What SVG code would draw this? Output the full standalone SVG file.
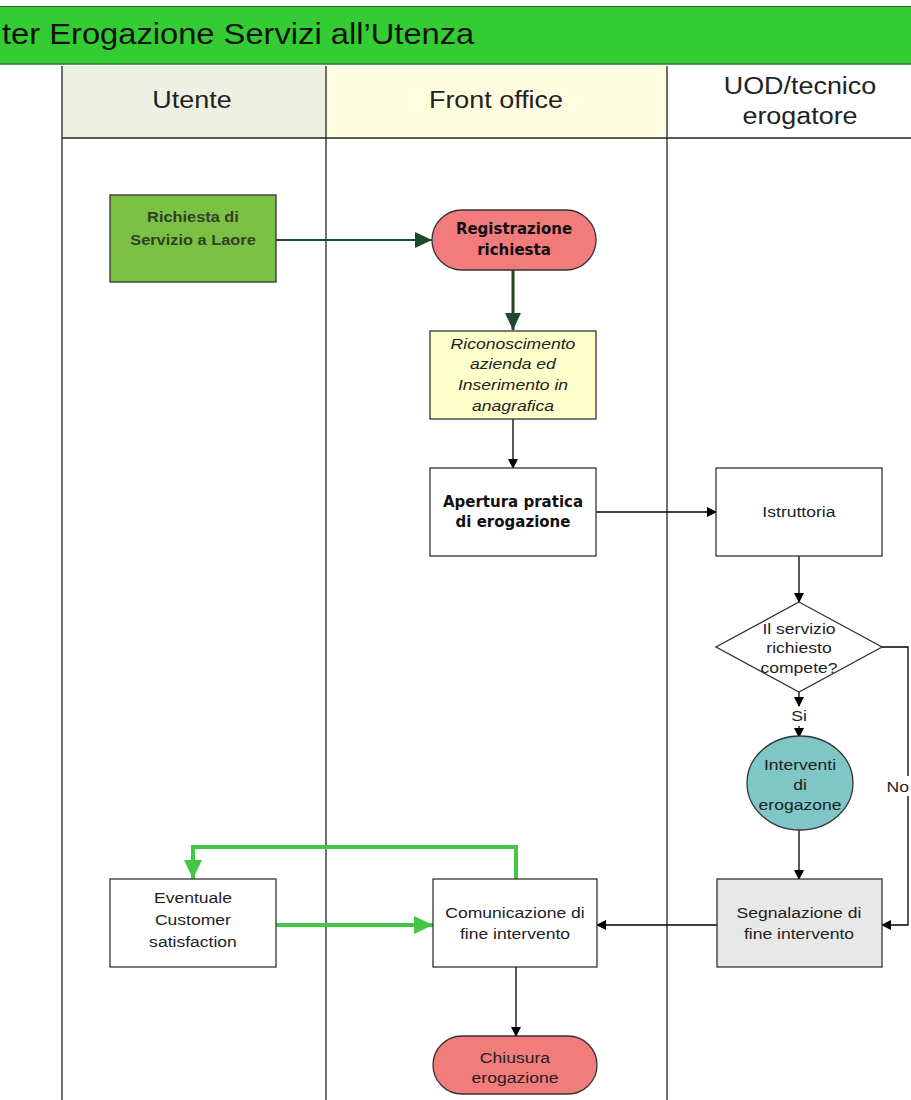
<svg xmlns="http://www.w3.org/2000/svg" width="911" height="1100" viewBox="0 0 911 1100">
<defs>
<marker id="ab" markerWidth="10" markerHeight="10" refX="9" refY="5" orient="auto" markerUnits="userSpaceOnUse"><path d="M0,0 L10,5 L0,10 Z" fill="#000"/></marker>
<marker id="adg" markerWidth="18" markerHeight="18" refX="17" refY="8" orient="auto" markerUnits="userSpaceOnUse"><path d="M0,0 L17,8 L0,16 Z" fill="#1d4a2c"/></marker>
<marker id="ag" markerWidth="20" markerHeight="20" refX="19" refY="9" orient="auto" markerUnits="userSpaceOnUse"><path d="M0,0 L19,9 L0,18 Z" fill="#44c744"/></marker>
</defs>
<style>
text{font-family:"Liberation Sans",Arial,sans-serif;font-size:15px;fill:#222;text-anchor:middle;transform-box:fill-box;transform-origin:center;transform:scaleX(1.17)}
.box{stroke:#333;stroke-width:1.3}
.lane{stroke:#222;stroke-width:1.3;fill:none}
.hd{font-size:23px;fill:#222;transform:scaleX(1.17)}
.t{font-size:30px;fill:#111;text-anchor:start;transform-origin:left;transform:scaleX(1.09)}
.b{font-weight:bold;font-size:14px}
.v{font-family:"DejaVu Sans",Verdana,sans-serif;font-weight:bold;font-size:15px;fill:#111;transform:none}
.i{font-style:italic}
.c{stroke:#000;stroke-width:1.3;fill:none;marker-end:url(#ab)}
.g{stroke:#44c744;stroke-width:4;fill:none;marker-end:url(#ag)}
</style>
<rect width="911" height="1100" fill="#fff"/>
<g id="header">
<rect x="0" y="6" width="911" height="58" fill="#33cc33"/>
<line x1="0" y1="6.5" x2="911" y2="6.5" stroke="#2a6a2a" stroke-width="1"/>
<line x1="0" y1="64" x2="911" y2="64" stroke="#2a7a2a" stroke-width="1.5"/>
<text class="t" x="2" y="44">ter Erogazione Servizi all’Utenza</text>
</g>
<g id="lanes">
<rect x="62" y="66" width="264" height="72" fill="#eef0e2"/>
<rect x="326" y="66" width="341" height="72" fill="#fffde0"/>
<line class="lane" x1="62" y1="66" x2="62" y2="1100"/>
<line class="lane" x1="326" y1="66" x2="326" y2="1100"/>
<line class="lane" x1="667" y1="66" x2="667" y2="1100"/>
<line class="lane" x1="62" y1="138" x2="911" y2="138"/>
<text class="hd" x="192" y="108">Utente</text>
<text class="hd" x="496" y="108">Front office</text>
<text class="hd" x="800" y="94">UOD/tecnico</text>
<text class="hd" x="800" y="124">erogatore</text>
</g>
<g id="connectors">
<line x1="276" y1="240" x2="432" y2="240" stroke="#1d4a2c" stroke-width="2" marker-end="url(#adg)"/>
<line x1="513" y1="270" x2="513" y2="330" stroke="#1d4a2c" stroke-width="3" marker-end="url(#adg)"/>
<line class="c" x1="513" y1="419" x2="513" y2="468"/>
<line class="c" x1="596" y1="512" x2="716" y2="512"/>
<line class="c" x1="799" y1="556" x2="799" y2="602"/>
<line class="c" x1="799" y1="692" x2="799" y2="706"/>
<line class="c" x1="799" y1="726" x2="799" y2="737"/>
<text x="799" y="721">Si</text>
<polyline class="c" points="882,647 908,647 908,925 882,925"/>
<rect x="886" y="776" width="25" height="20" fill="#fff"/>
<text x="909" y="792" style="text-anchor:end;transform-origin:right">No</text>
<line class="c" x1="799" y1="830" x2="799" y2="879"/>
<line class="c" x1="717" y1="925" x2="597" y2="925"/>
<line class="g" x1="276" y1="925" x2="433" y2="925"/>
<polyline class="g" points="516,879 516,847 193,847 193,879"/>
<line class="c" x1="516" y1="967" x2="516" y2="1036"/>
</g>
<g id="n1">
<rect class="box" x="110" y="195" width="166" height="87" fill="#7bc143"/>
<text class="b" x="193" y="222" style="fill:#33402a">Richiesta di</text>
<text class="b" x="193" y="245" style="fill:#33402a">Servizio a Laore</text>
</g>
<g id="n2">
<rect class="box" x="432" y="210" width="164" height="60" rx="30" fill="#f27b7b"/>
<text class="v" x="514" y="234">Registrazione</text>
<text class="v" x="514" y="255">richiesta</text>
</g>
<g id="n3">
<rect class="box" x="430" y="331" width="166" height="88" fill="#ffffcc"/>
<text class="i" x="513" y="349">Riconoscimento</text>
<text class="i" x="513" y="369">azienda ed</text>
<text class="i" x="513" y="390">Inserimento in</text>
<text class="i" x="513" y="411">anagrafica</text>
</g>
<g id="n4">
<rect class="box" x="430" y="468" width="166" height="88" fill="#fff"/>
<text class="v" x="513" y="507">Apertura pratica</text>
<text class="v" x="513" y="527">di erogazione</text>
</g>
<g id="n5">
<rect class="box" x="716" y="468" width="166" height="88" fill="#fff"/>
<text x="799" y="517">Istruttoria</text>
</g>
<g id="n6">
<polygon class="box" points="799,602 882,647 799,692 716,647" fill="#fff"/>
<text x="799" y="634">Il servizio</text>
<text x="799" y="653">richiesto</text>
<text x="799" y="673">compete?</text>
</g>
<g id="n7">
<ellipse class="box" cx="800" cy="783" rx="53" ry="47" fill="#7fc6c6"/>
<text x="800" y="770">Interventi</text>
<text x="800" y="790">di</text>
<text x="800" y="810">erogazone</text>
</g>
<g id="n8">
<rect class="box" x="717" y="879" width="165" height="88" fill="#e8e8e8"/>
<text x="799" y="918">Segnalazione di</text>
<text x="799" y="939">fine intervento</text>
</g>
<g id="n9">
<rect class="box" x="433" y="879" width="164" height="88" fill="#fff"/>
<text x="515" y="918">Comunicazione di</text>
<text x="515" y="939">fine intervento</text>
</g>
<g id="n10">
<rect class="box" x="110" y="879" width="166" height="88" fill="#fff"/>
<text x="193" y="903">Eventuale</text>
<text x="193" y="925">Customer</text>
<text x="193" y="947">satisfaction</text>
</g>
<g id="n11">
<rect class="box" x="433" y="1036" width="164" height="58" rx="29" fill="#f27b7b"/>
<text x="515" y="1063">Chiusura</text>
<text x="515" y="1083">erogazione</text>
</g>
</svg>
